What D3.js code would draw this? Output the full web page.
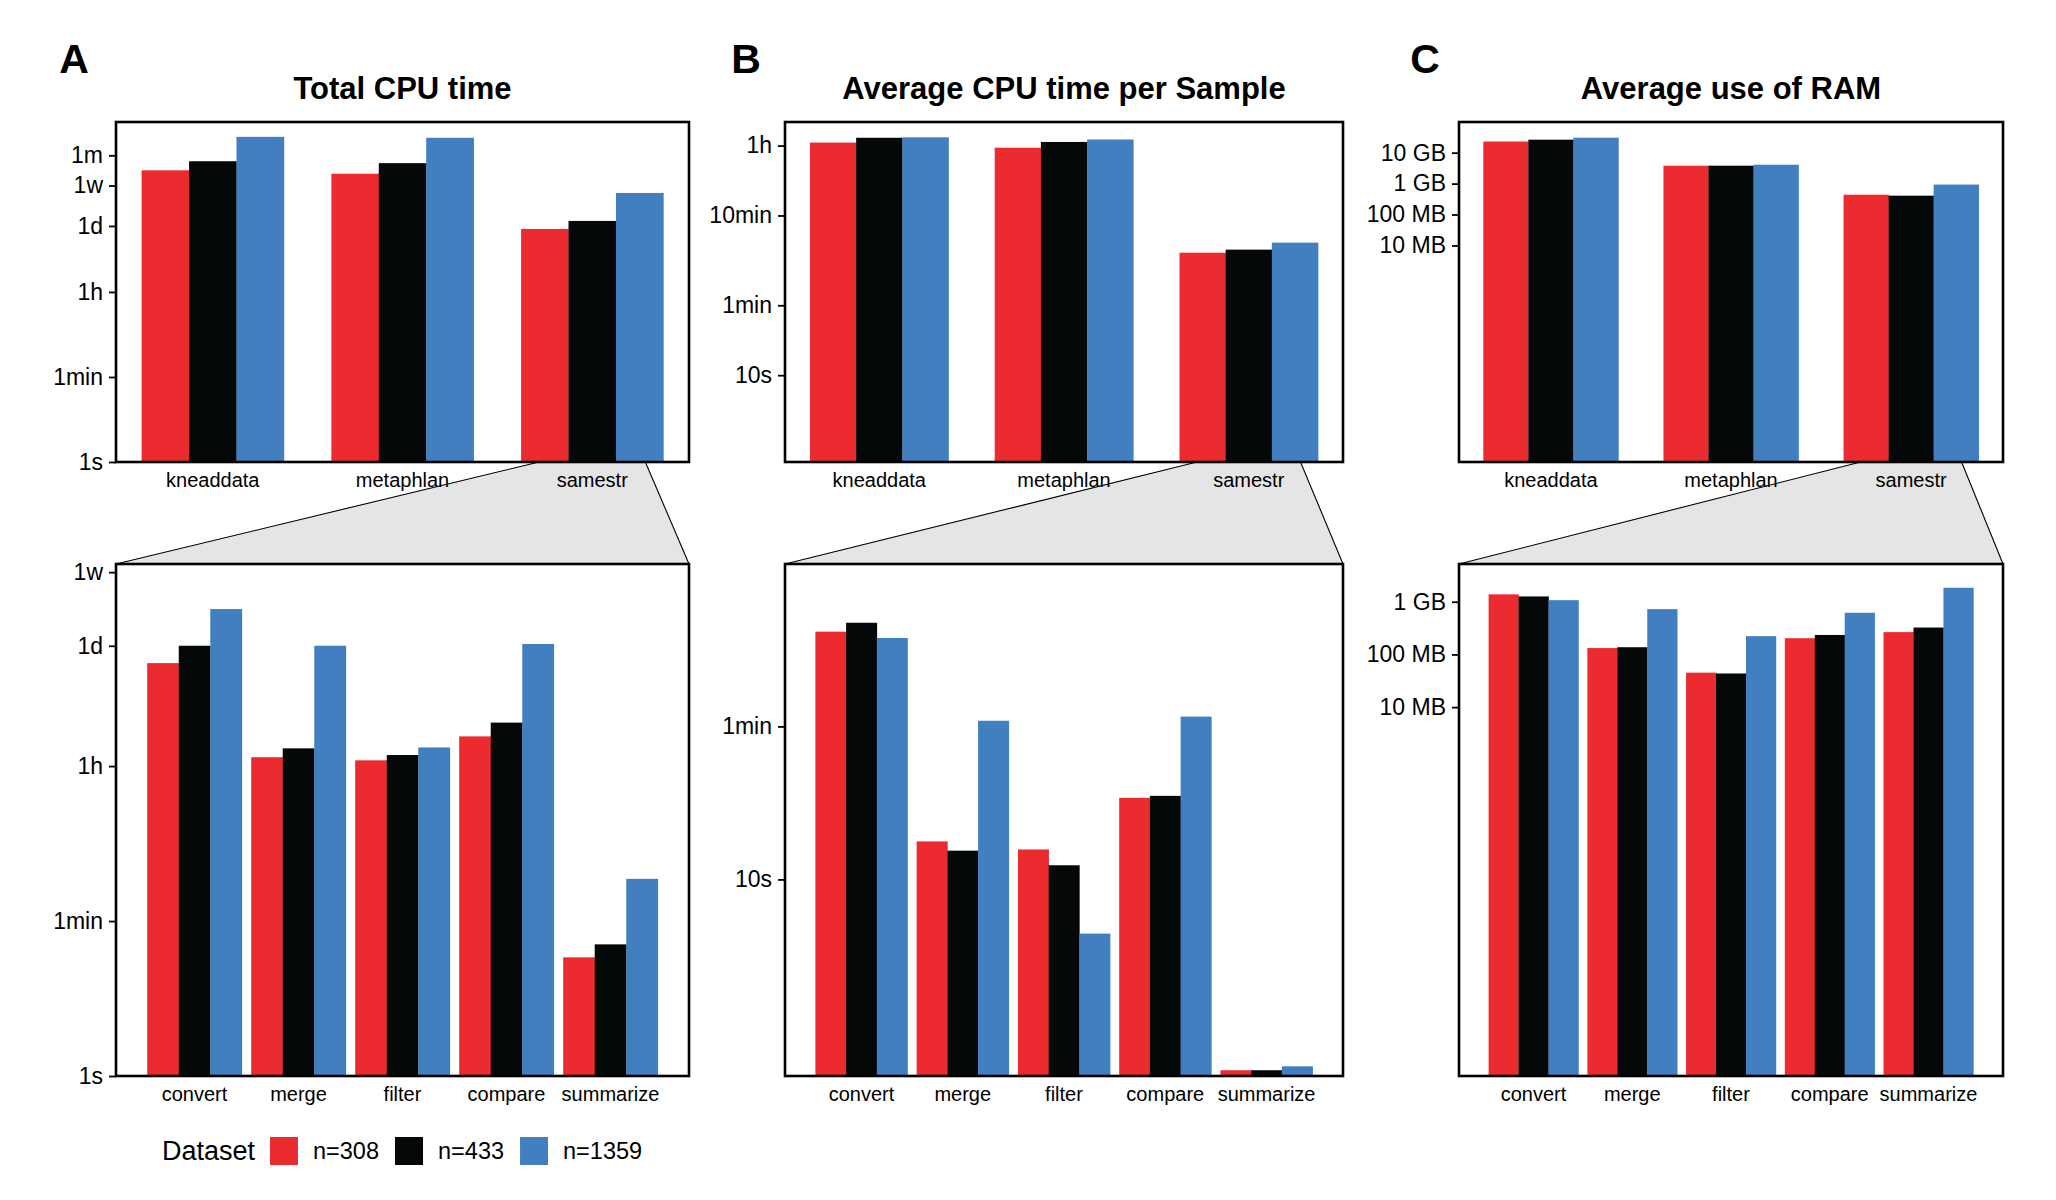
<!DOCTYPE html>
<html>
<head>
<meta charset="utf-8">
<script src="https://cdn.jsdelivr.net/npm/d3@7"></script>
<style>
body { margin: 0; background: #fff; }
svg { display: block; }
text { font-family: "Liberation Sans", Arial, sans-serif; fill: #000; }
</style>
</head>
<body>
<svg id="chart" width="2056" height="1200"></svg>
<script>
// datasets / categories
const datasets = ['n=308', 'n=433', 'n=1359'];
const colors = ['#EB2B30', '#050809', '#427FC0'];
const tools = ['kneaddata', 'metaphlan', 'samestr'];
const steps = ['convert', 'merge', 'filter', 'compare', 'summarize'];

// total CPU time in seconds, rows = category, cols = dataset
const totalCpuTools = [[1.26e6, 1.95e6, 6.31e6], [1.07e6, 1.78e6, 6.03e6], [7.48e4, 1.10e5, 4.23e5]];
const totalCpuSteps = [[5.47e4, 8.65e4, 2.28e5], [4550, 5750, 8.65e4], [4190, 4820, 5890], [7890, 1.135e4, 9.06e4], [23, 32.4, 183]];

// average CPU time per sample in seconds
const avgCpuTools = [[3890, 4400, 4450], [3410, 3950, 4210], [231, 250, 299]];
const avgCpuSteps = [[182, 202, 169], [15.6, 14.0, 64.1], [14.2, 11.8, 5.30], [26.0, 26.6, 67.3], [1.07, 1.07, 1.12]];

// average RAM in bytes
const ramTools = [[2.29e10, 2.63e10, 3.05e10], [3.79e9, 3.79e9, 4.07e9], [4.37e8, 4.07e8, 9.3e8]];
const ramSteps = [[1.38e9, 1.26e9, 1.07e9], [1.32e8, 1.37e8, 7.24e8], [4.51e7, 4.35e7, 2.22e8], [2.03e8, 2.34e8, 6.17e8], [2.65e8, 3.24e8, 1.84e9]];

// axis ticks
const timeTicksA = [1, 60, 3600, 86400, 604800, 2592000];
const timeLabelsA = ['1s', '1min', '1h', '1d', '1w', '1m'];
const timeTicksAz = [1, 60, 3600, 86400, 604800];
const timeLabelsAz = ['1s', '1min', '1h', '1d', '1w'];
const timeTicksB = [10, 60, 600, 3600];
const timeLabelsB = ['10s', '1min', '10min', '1h'];
const timeTicksBz = [10, 60];
const timeLabelsBz = ['10s', '1min'];
const ramTicks = [1e7, 1e8, 1e9, 1e10];
const ramLabels = ['10 MB', '100 MB', '1 GB', '10 GB'];
const ramTicksZ = [1e7, 1e8, 1e9];
const ramLabelsZ = ['10 MB', '100 MB', '1 GB'];

const svg = d3.select('#chart');

const topBox = {y0: 122, y1: 462};
const botBox = {y0: 564, y1: 1076};

const panels = [
    {letter: 'A', letterX: 74, title: 'Total CPU time', x0: 116, x1: 689,
     top: {values: totalCpuTools, domain: [1, 1.29e7], ticks: timeTicksA, labels: timeLabelsA},
     bot: {values: totalCpuSteps, domain: [1, 7.5e5], ticks: timeTicksAz, labels: timeLabelsAz}},
    {letter: 'B', letterX: 746, title: 'Average CPU time per Sample', x0: 785, x1: 1343,
     top: {values: avgCpuTools, domain: [1.08, 6590], ticks: timeTicksB, labels: timeLabelsB},
     bot: {values: avgCpuSteps, domain: [1, 402], ticks: timeTicksBz, labels: timeLabelsBz}},
    {letter: 'C', letterX: 1425, title: 'Average use of RAM', x0: 1459, x1: 2003,
     top: {values: ramTools, domain: [1, 9.8e10], ticks: ramTicks, labels: ramLabels},
     bot: {values: ramSteps, domain: [1, 5.2e9], ticks: ramTicksZ, labels: ramLabelsZ}}
];

function drawBars(g, cats, spec, x0, x1, y0, y1, padIn, padOut) {
    const x = d3.scaleBand().domain(cats).range([x0, x1]).paddingInner(padIn).paddingOuter(padOut);
    const xs = d3.scaleBand().domain(datasets).range([0, x.bandwidth()]);
    const y = d3.scaleLog().domain(spec.domain).range([y1, y0]);

    const groups = g.selectAll('g.grp')
            .data(cats)
        .enter().append('g')
            .attr('class', 'grp')
            .attr('transform', function(d){ return 'translate(' + x(d) + ',0)' });

    groups.selectAll('rect')
            .data(function(d, i){ return spec.values[i].map(function(v, j){ return {v: v, k: datasets[j], c: colors[j]} }) })
        .enter().append('rect')
            .attr('x', function(d){ return xs(d.k) })
            .attr('width', xs.bandwidth() + 0.3)
            .attr('y', function(d){ return y(d.v) })
            .attr('height', function(d){ return y1 - y(d.v) })
            .style('fill', function(d){ return d.c });

    // y axis
    const yAxis = d3.axisLeft(y)
            .tickValues(spec.ticks)
            .tickFormat(function(d, i){ return spec.labels[i] })
            .tickSize(7)
            .tickPadding(6);
    const ya = g.append('g')
            .attr('transform', 'translate(' + x0 + ',0)')
            .call(yAxis);
    ya.select('.domain').remove();
    ya.selectAll('line').style('stroke', '#000').style('stroke-width', 1.8);
    ya.selectAll('text').style('font-size', '23px').style('fill', '#000');

    // x labels
    const xAxis = d3.axisBottom(x).tickSize(0).tickPadding(11);
    const xa = g.append('g')
            .attr('transform', 'translate(0,' + y1 + ')')
            .call(xAxis);
    xa.select('.domain').remove();
    xa.selectAll('text').style('font-size', '20px').style('fill', '#000');

    g.append('rect')
            .attr('x', x0).attr('y', y0)
            .attr('width', x1 - x0).attr('height', y1 - y0)
            .style('fill', 'none')
            .style('stroke', '#000')
            .style('stroke-width', 2.6);

    return x;
}

panels.forEach(function(p){
    const g = svg.append('g').attr('class', 'panel');

    // zoom connector first so it sits in the back
    const xt = d3.scaleBand().domain(tools).range([p.x0, p.x1]).paddingInner(0.25).paddingOuter(0.135);
    const c = xt('samestr') + xt.bandwidth() / 2;
    const half = xt.step() * 0.28;
    const conn = g.append('g').attr('class', 'connector');
    conn.append('polygon')
            .attr('points', [[c - half, topBox.y1], [c + half, topBox.y1], [p.x1, botBox.y0], [p.x0, botBox.y0]].join(' '))
            .style('fill', '#e5e5e5');
    conn.append('line')
            .attr('x1', c - half).attr('y1', topBox.y1).attr('x2', p.x0).attr('y2', botBox.y0)
            .style('stroke', '#000').style('stroke-width', 1.1);
    conn.append('line')
            .attr('x1', c + half).attr('y1', topBox.y1).attr('x2', p.x1).attr('y2', botBox.y0)
            .style('stroke', '#000').style('stroke-width', 1.1);

    drawBars(g.append('g'), tools, p.top, p.x0, p.x1, topBox.y0, topBox.y1, 0.25, 0.135);
    drawBars(g.append('g'), steps, p.bot, p.x0, p.x1, botBox.y0, botBox.y1, 0.09, 0.30);

    g.append('text')
            .attr('x', p.letterX).attr('y', 73)
            .attr('text-anchor', 'middle')
            .style('font-size', '41px').style('font-weight', 'bold')
            .text(p.letter);
    g.append('text')
            .attr('x', (p.x0 + p.x1) / 2).attr('y', 99)
            .attr('text-anchor', 'middle')
            .style('font-size', '31px').style('font-weight', 'bold')
            .text(p.title);
});

// legend
const legend = svg.append('g').attr('class', 'legend');
legend.append('text')
        .attr('x', 162).attr('y', 1160)
        .style('font-size', '27px')
        .text('Dataset');
let lx = 270;
datasets.forEach(function(d, i){
    legend.append('rect')
            .attr('x', lx).attr('y', 1137)
            .attr('width', 28).attr('height', 28)
            .style('fill', colors[i]);
    const t = legend.append('text')
            .attr('x', lx + 43).attr('y', 1159)
            .style('font-size', '23.5px')
            .text(d);
    lx = lx + 43 + t.node().getComputedTextLength() + 16;
});
</script>
</body>
</html>
